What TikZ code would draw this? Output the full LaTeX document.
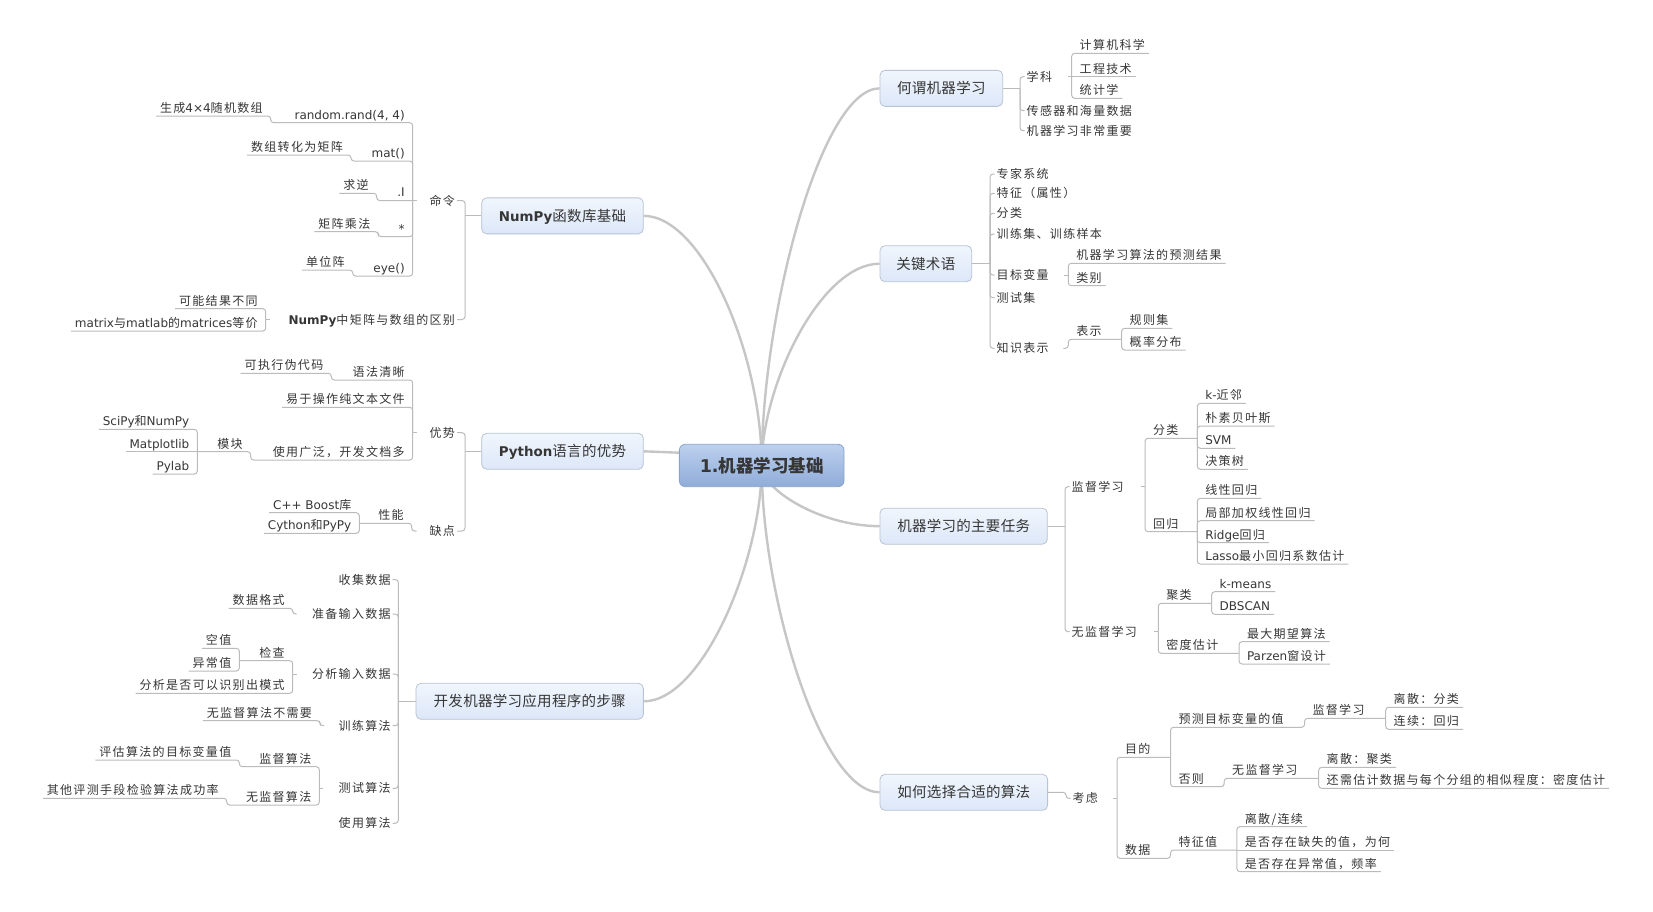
\documentclass[tikz,border=0pt]{standalone}
\usepackage{fontspec}
\usetikzlibrary{backgrounds}
\newfontfamily\cjkf{Noto Sans CJK SC}[LetterSpace=11]
\newfontfamily\cjkb{Noto Sans CJK SC}[LetterSpace=2]
\newfontfamily\cjkc{Noto Sans CJK SC}
\newfontfamily\latf{DejaVu Sans}
\newcommand\lff{\cjkf\fontsize{12}{14}\selectfont}
\newcommand\bxf{\cjkb\fontsize{14.5}{17}\selectfont}
\newcommand\ctf{\cjkc\bfseries\fontsize{17.5}{20}\selectfont}
\newcommand\ltn[1]{{\latf #1}}
\newcommand\ltb[1]{{\latf\bfseries #1}}
\definecolor{txt}{HTML}{363636}
\definecolor{lnc}{HTML}{BBBBBB}
\definecolor{bigc}{HTML}{C6C6C6}
\definecolor{boxtop}{HTML}{F1F6FD}
\definecolor{boxbot}{HTML}{DCE7F8}
\definecolor{boxdr}{HTML}{B8C3D3}
\definecolor{ctop}{HTML}{BDD0EE}
\definecolor{cbot}{HTML}{8FACD9}
\definecolor{cdr}{HTML}{8DA3C6}
\tikzset{
  conn/.style={draw=lnc, line width=1pt, rounded corners=3pt},
  big/.style={draw=bigc, line width=2.4pt},
  tbase/.style={text=txt, font=\lff, text height=10.5pt, text depth=1.5pt, outer sep=0pt},
  l2R/.style={tbase, anchor=west, inner sep=0pt},
  l2L/.style={tbase, anchor=east, inner sep=0pt},
  lfR/.style={tbase, anchor=south west, inner xsep=4pt, inner ysep=2.2pt, xshift=4pt},
  lfL/.style={tbase, anchor=south east, inner xsep=4pt, inner ysep=2.2pt, xshift=-4pt},
  topic/.style={rounded corners=5pt, draw=boxdr, line width=0.8pt, top color=boxtop, bottom color=boxbot, text=txt, font=\bxf, inner sep=0pt, minimum height=36pt, text height=13pt, text depth=2pt},
  root/.style={rounded corners=6pt, draw=cdr, line width=0.8pt, top color=ctop, bottom color=cbot, text=txt, font=\ctf, inner sep=0pt, minimum height=42.4pt, minimum width=164.7pt, text height=15.3pt, text depth=2pt},
}
\begin{document}
\begin{tikzpicture}[x=1pt,y=-1pt]
\useasboundingbox (0,0) rectangle (1653,911);
% ---------- topics ----------
\node[root] (c) at (761.7,465.5) {\ltb{1.}机器学习基础};
\node[topic, minimum width=161.6pt] (numpy) at (562.5,215.85) {{\latf\bfseries\fontsize{13.4}{16}\selectfont NumPy}函数库基础};
\node[topic, minimum width=161.6pt] (python) at (562.5,451.3) {{\latf\bfseries\fontsize{13.4}{16}\selectfont Python}语言的优势};
\node[topic, minimum width=227.3pt] (kaifa) at (529.7,701.3) {开发机器学习应用程序的步骤};
\node[topic, minimum width=122.7pt] (hewei) at (941.35,88.35) {何谓机器学习};
\node[topic, minimum width=91.7pt] (guanjian) at (925.85,263.7) {关键术语};
\node[topic, minimum width=167.3pt] (renwu) at (963.65,526.15) {机器学习的主要任务};
\node[topic, minimum width=167.6pt] (ruhe) at (963.8,792.3) {如何选择合适的算法};
\begin{pgfonlayer}{background}
\fill[white] (0,0) rectangle (1653,911);
\draw[big] (c.center) .. controls (761.7,353) and (702,215.85) .. (numpy.east);
\draw[big] (c.center) .. controls (761.7,559.8) and (702.5,701.3) .. (kaifa.east);
\draw[big] ([yshift=12.8pt]c.west) -- (python.east);
\draw[big] (c.center) .. controls (761.7,314.7) and (820.9,88.35) .. (hewei.west);
\draw[big] (c.center) .. controls (761.7,384.8) and (820.9,263.7) .. (guanjian.west);
\draw[big] (c.center) .. controls (761.7,489.8) and (820.9,526.15) .. (renwu.west);
\draw[big] (c.center) .. controls (761.7,596.2) and (820.9,792.3) .. (ruhe.west);
\end{pgfonlayer}
% ---------- right: hewei ----------
\node[l2R] (xk) at (1026.7,76.7) {学科};
\node[l2R] (cg) at (1026.7,110.7) {传感器和海量数据};
\node[l2R] (zy) at (1026.7,130.7) {机器学习非常重要};
\node[lfR] (jsj) at (1071.7,53.3) {计算机科学};
\node[lfR] (gcjs) at (1071.7,76.7) {工程技术};
\node[lfR] (tjx) at (1071.7,98.3) {统计学};
\coordinate (Jhw) at (1020,88.35);
\coordinate (Jxk) at (1071.7,76.7);
\draw[conn] (hewei.east) -- (Jhw);
\draw[conn] (Jhw) |- ([xshift=-2pt]xk.west);
\draw[conn] (Jhw) |- ([xshift=-2pt]cg.west);
\draw[conn] (Jhw) |- ([xshift=-2pt]zy.west);
\draw[conn] (Jxk) -- ++(-4,0);
\draw[conn] (Jxk) |- (jsj.south east);
\draw[conn] (Jxk) -- (gcjs.south east);
\draw[conn] (Jxk) |- (tjx.south east);
% ---------- right: guanjian ----------
\node[l2R] (zjxt) at (996.7,174) {专家系统};
\node[l2R] (tz) at (996.7,193.3) {特征（属性）};
\node[l2R] (fl) at (996.7,213.3) {分类};
\node[l2R] (xlj) at (996.7,234) {训练集、训练样本};
\node[l2R] (mbbl) at (996.7,275) {目标变量};
\node[l2R] (csj) at (996.7,297.7) {测试集};
\node[l2R] (zsbs) at (996.7,348.3) {知识表示};
\node[lfR] (ycjg) at (1068.3,263.3) {机器学习算法的预测结果};
\node[lfR] (lb) at (1068.3,285.7) {类别};
\node[lfR] (bs) at (1068.3,339.3) {表示};
\node[lfR] (gzj) at (1121.7,328.3) {规则集};
\node[lfR] (glfb) at (1121.7,350) {概率分布};
\coordinate (Jgj) at (990,263.7);
\coordinate (Jmb) at (1068.3,275);
\coordinate (Jzs) at (1068.3,348.3);
\coordinate (Jbs) at (1121.7,339.3);
\draw[conn] (guanjian.east) -- (Jgj);
\foreach \n in {zjxt,tz,fl,xlj,mbbl,csj,zsbs} {\draw[conn] (Jgj) |- ([xshift=-2pt]\n.west);}
\draw[conn] (Jmb) -- ++(-4,0);
\draw[conn] (Jmb) |- (ycjg.south east);
\draw[conn] (Jmb) |- (lb.south east);
\draw[conn] ([xshift=-5pt]Jzs) -- (Jzs) |- (Jbs);
\draw[conn] (Jbs) |- (gzj.south east);
\draw[conn] (Jbs) |- (glfb.south east);
% ---------- right: renwu ----------
\node[l2R] (jd) at (1071.7,486.7) {监督学习};
\node[l2R] (wjd) at (1071.7,631.7) {无监督学习};
\node[lfR] (fl2) at (1145,438.3) {分类};
\node[lfR] (hg) at (1145,531.7) {回归};
\node[lfR] (knn) at (1197.3,403.3) {\ltn{k-}近邻};
\node[lfR] (pbys) at (1197.3,426) {朴素贝叶斯};
\node[lfR] (svm) at (1197.3,448.3) {\ltn{SVM}};
\node[lfR] (jcs) at (1197.3,469.3) {决策树};
\node[lfR] (xxhg) at (1197.3,498.3) {线性回归};
\node[lfR] (jbjq) at (1197.3,520.7) {局部加权线性回归};
\node[lfR] (ridge) at (1197.3,542.7) {\ltn{Ridge}回归};
\node[lfR] (lasso) at (1197.3,564) {\ltn{Lasso}最小回归系数估计};
\node[lfR] (jl) at (1158.3,603.3) {聚类};
\node[lfR] (mdgj) at (1158.3,653.3) {密度估计};
\node[lfR] (kmeans) at (1211.7,591.7) {\ltn{k-means}};
\node[lfR] (dbscan) at (1211.7,614.3) {\ltn{DBSCAN}};
\node[lfR] (zdqw) at (1239,641.7) {最大期望算法};
\node[lfR] (parzen) at (1239,664) {\ltn{Parzen}窗设计};
\coordinate (Jrw) at (1065,526.15);
\coordinate (Jjd) at (1145,486.7);
\coordinate (Jfl) at (1197.3,438.3);
\coordinate (Jhg) at (1197.3,531.7);
\coordinate (Jwjd) at (1158.3,631.7);
\coordinate (Jjl) at (1211.7,603.3);
\coordinate (Jmdgj) at (1239,653.3);
\draw[conn] (renwu.east) -- (Jrw);
\draw[conn] (Jrw) |- ([xshift=-2pt]jd.west);
\draw[conn] (Jrw) |- ([xshift=-2pt]wjd.west);
\draw[conn] (Jjd) -- ++(-4,0);
\draw[conn] (Jjd) |- (Jfl);
\draw[conn] (Jjd) |- (Jhg);
\foreach \n in {knn,pbys,svm,jcs} {\draw[conn] (Jfl) |- (\n.south east);}
\foreach \n in {xxhg,jbjq,ridge,lasso} {\draw[conn] (Jhg) |- (\n.south east);}
\draw[conn] (Jwjd) -- ++(-4,0);
\draw[conn] (Jwjd) |- (Jjl);
\draw[conn] (Jwjd) |- (Jmdgj);
\draw[conn] (Jjl) |- (kmeans.south east);
\draw[conn] (Jjl) |- (dbscan.south east);
\draw[conn] (Jmdgj) |- (zdqw.south east);
\draw[conn] (Jmdgj) |- (parzen.south east);
% ---------- right: ruhe ----------
\node[l2R] (kl) at (1072.6,798.3) {考虑};
\node[lfR] (md) at (1117,757.3) {目的};
\node[lfR] (sj) at (1117,858.3) {数据};
\node[lfR] (yc) at (1170.5,727.3) {预测目标变量的值};
\node[lfR] (fz) at (1170.5,786.7) {否则};
\node[lfR] (tzz) at (1170.5,850) {特征值};
\node[lfR] (jd2) at (1304.6,718.3) {监督学习};
\node[lfR] (lsfl) at (1385.7,707.3) {离散：分类};
\node[lfR] (lxhg) at (1385.7,729.3) {连续：回归};
\node[lfR] (wjd2) at (1224.2,778.3) {无监督学习};
\node[lfR] (lsjl) at (1318.7,767.3) {离散：聚类};
\node[lfR] (hxgj) at (1318.7,788.3) {还需估计数据与每个分组的相似程度：密度估计};
\node[lfR] (lslx) at (1236.9,826.7) {离散/连续};
\node[lfR] (qs) at (1236.9,850) {是否存在缺失的值，为何};
\node[lfR] (ycz2) at (1236.9,871.7) {是否存在异常值，频率};
\coordinate (Jrh) at (1066,792.3);
\coordinate (Jkl) at (1117,798.3);
\coordinate (Jmd) at (1170.5,757.3);
\coordinate (Jsj) at (1170.5,858.3);
\coordinate (Jyc) at (1304.6,727.3);
\coordinate (Jjd2) at (1385.7,718.3);
\coordinate (Jfz) at (1224.2,786.7);
\coordinate (Jwjd2) at (1318.7,778.3);
\coordinate (Jtzz) at (1236.9,850);
\draw[conn] (ruhe.east) -- (Jrh) |- ([xshift=-2pt]kl.west);
\draw[conn] (Jkl) -- ++(-4,0);
\draw[conn] (Jkl) |- (Jmd);
\draw[conn] (Jkl) |- (Jsj) |- (Jtzz);
\draw[conn] (Jmd) |- (Jyc) |- (Jjd2);
\draw[conn] (Jmd) |- (Jfz) |- (Jwjd2);
\draw[conn] (Jjd2) |- (lsfl.south east);
\draw[conn] (Jjd2) |- (lxhg.south east);
\draw[conn] (Jwjd2) |- (lsjl.south east);
\draw[conn] (Jwjd2) |- (hxgj.south east);
\draw[conn] (Jtzz) |- (lslx.south east);
\draw[conn] (Jtzz) -- (qs.south east);
\draw[conn] (Jtzz) |- (ycz2.south east);
% ---------- left: numpy ----------
\node[l2L] (ml) at (455,200.5) {命令};
\node[l2L] (qb) at (455,319.5) {\ltb{NumPy}中矩阵与数组的区别};
\node[lfL] (rr) at (412.7,122.7) {\ltn{random.rand(4, 4)}};
\node[lfL] (mat) at (412.7,161) {\ltn{mat()}};
\node[lfL] (inv) at (412.7,200.5) {\ltn{.I}};
\node[lfL] (star) at (412.7,236.7) {\ltn{*}};
\node[lfL] (eye) at (412.7,276) {\ltn{eye()}};
\node[lfL] (sc) at (270.7,116) {生成\ltn{4×4}随机数组};
\node[lfL] (szzh) at (351,155) {数组转化为矩阵};
\node[lfL] (qn) at (376.7,193.3) {求逆};
\node[lfL] (jzcf) at (378.3,231.7) {矩阵乘法};
\node[lfL] (dwz) at (352.7,270) {单位阵};
\node[lfL] (knjg) at (265.7,308.7) {可能结果不同};
\node[lfL] (mtx) at (265.7,331) {\ltn{matrix}与\ltn{matlab}的\ltn{matrices}等价};
\coordinate (Jnp) at (465,215.85);
\coordinate (Jml) at (412.7,200.5);
\coordinate (Jrr) at (270.7,122.7);
\coordinate (Jmat) at (351,161);
\coordinate (Jinv) at (376.7,200.5);
\coordinate (Jst) at (378.3,236.7);
\coordinate (Jeye) at (352.7,276);
\coordinate (Jqb) at (265.7,319.5);
\draw[conn] (numpy.west) -- (Jnp);
\draw[conn] (Jnp) |- ([xshift=2pt]ml.east);
\draw[conn] (Jnp) |- ([xshift=2pt]qb.east);
\draw[conn] (Jml) -- ++(4,0);
\draw[conn] (Jml) |- (Jrr) |- (sc.south west);
\draw[conn] (Jml) |- (Jmat) |- (szzh.south west);
\draw[conn] (Jml) -- (Jinv) |- (qn.south west);
\draw[conn] (Jml) |- (Jst) |- (jzcf.south west);
\draw[conn] (Jml) |- (Jeye) |- (dwz.south west);
\draw[conn] (Jqb) -- ++(4,0);
\draw[conn] (Jqb) |- (knjg.south west);
\draw[conn] (Jqb) |- (mtx.south west);
% ---------- left: python ----------
\node[l2L] (ys) at (455,432.7) {优势};
\node[l2L] (qd) at (455,531) {缺点};
\node[lfL] (yfqx) at (412.7,380) {语法清晰};
\node[lfL] (yycz) at (412.7,407.3) {易于操作纯文本文件};
\node[lfL] (sygf) at (412.7,460) {使用广泛，开发文档多};
\node[lfL] (kzx) at (331.3,373.3) {可执行伪代码};
\node[lfL] (mk) at (250.7,451.7) {模块};
\node[lfL] (scipy) at (197.3,429.3) {\ltn{SciPy}和\ltn{NumPy}};
\node[lfL] (mpl) at (197.3,451.7) {\ltn{Matplotlib}};
\node[lfL] (pylab) at (197.3,474) {\ltn{Pylab}};
\node[lfL] (xn) at (411.7,523.3) {性能};
\node[lfL] (boost) at (359.3,512.7) {\ltn{C++ Boost}库};
\node[lfL] (cython) at (359.3,533.3) {\ltn{Cython}和\ltn{PyPy}};
\coordinate (Jpy) at (465,451.3);
\coordinate (Jys) at (412.7,432.7);
\coordinate (Jyf) at (331.3,380);
\coordinate (Jsy) at (250.7,460);
\coordinate (Jmk) at (197.3,451.7);
\coordinate (Jqd) at (411.7,531);
\coordinate (Jxn) at (359.3,523.3);
\draw[conn] (python.west) -- (Jpy);
\draw[conn] (Jpy) |- ([xshift=2pt]ys.east);
\draw[conn] (Jpy) |- ([xshift=2pt]qd.east);
\draw[conn] (Jys) -- ++(4,0);
\draw[conn] (Jys) |- (Jyf) |- (kzx.south west);
\draw[conn] (Jys) |- (yycz.south west);
\draw[conn] (Jys) |- (Jsy) |- (Jmk);
\draw[conn] (Jmk) |- (scipy.south west);
\draw[conn] (Jmk) -- (mpl.south west);
\draw[conn] (Jmk) |- (pylab.south west);
\draw[conn] ([xshift=5pt]Jqd) -- (Jqd) |- (Jxn);
\draw[conn] (Jxn) |- (boost.south west);
\draw[conn] (Jxn) |- (cython.south west);
% ---------- left: kaifa ----------
\node[l2L] (sjsj) at (390.7,579.5) {收集数据};
\node[l2L] (zbsr) at (390.7,614) {准备输入数据};
\node[l2L] (fxsr) at (390.7,674) {分析输入数据};
\node[l2L] (xlsf) at (390.7,725.7) {训练算法};
\node[l2L] (cssf) at (390.7,788.3) {测试算法};
\node[l2L] (sysf) at (390.7,823.3) {使用算法};
\node[lfL] (sjgs) at (292.7,608.3) {数据格式};
\node[lfL] (jc) at (292.7,660.7) {检查};
\node[lfL] (fxsf) at (292.7,693.3) {分析是否可以识别出模式};
\node[lfL] (kz) at (239.3,648.3) {空值};
\node[lfL] (ycz) at (239.3,671) {异常值};
\node[lfL] (bxy) at (320,720.7) {无监督算法不需要};
\node[lfL] (jdsf) at (319.3,766.7) {监督算法};
\node[lfL] (wjdsf) at (319.3,805) {无监督算法};
\node[lfL] (pg) at (239.3,760) {评估算法的目标变量值};
\node[lfL] (qt) at (226.7,798.3) {其他评测手段检验算法成功率};
\coordinate (Jkf) at (398.3,701.3);
\coordinate (Jzb) at (292.7,614);
\coordinate (Jfx) at (292.7,674);
\coordinate (Jjc) at (239.3,660.7);
\coordinate (Jxl) at (320,725.7);
\coordinate (Jcs) at (319.3,788.3);
\coordinate (Jjdsf) at (239.3,766.7);
\coordinate (Jwjdsf) at (226.7,805);
\draw[conn] (kaifa.west) -- (Jkf);
\foreach \n in {sjsj,zbsr,fxsr,xlsf,cssf,sysf} {\draw[conn] (Jkf) |- ([xshift=2pt]\n.east);}
\draw[conn] ([xshift=4pt]Jzb) -- (Jzb) |- (sjgs.south west);
\draw[conn] (Jfx) -- ++(4,0);
\draw[conn] (Jfx) |- (Jjc);
\draw[conn] (Jfx) |- (fxsf.south west);
\draw[conn] (Jjc) |- (kz.south west);
\draw[conn] (Jjc) |- (ycz.south west);
\draw[conn] ([xshift=4pt]Jxl) -- (Jxl) |- (bxy.south west);
\draw[conn] (Jcs) -- ++(4,0);
\draw[conn] (Jcs) |- (Jjdsf) |- (pg.south west);
\draw[conn] (Jcs) |- (Jwjdsf) |- (qt.south west);
\end{tikzpicture}
\end{document}
